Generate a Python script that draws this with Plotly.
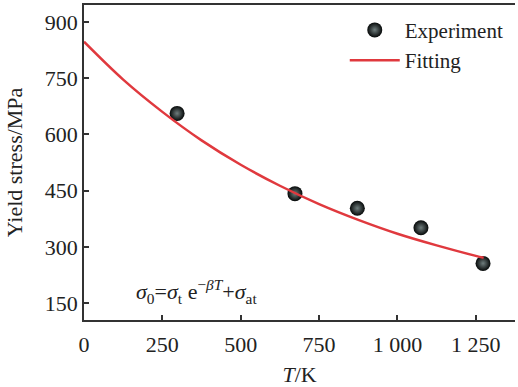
import plotly.graph_objects as go

# Experimental data
exp_T = [297, 673, 872, 1075, 1273]
exp_sigma = [656, 442, 403, 351, 256]

# Fitted curve
fit_T = [0, 125, 250, 375, 500, 625, 750, 875, 1000, 1125, 1250, 1275]
fit_sigma = [847, 746, 660, 584, 519, 463, 414, 372, 335, 304, 276, 271]

x_ticks = [0, 250, 500, 750, 1000, 1250]
x_ticktext = ["0", "250", "500", "750", "1 000", "1 250"]
y_ticks = [150, 300, 450, 600, 750, 900]

FONT = "Liberation Serif"
AX = "#333333"

fig = go.Figure()
fig.add_trace(go.Scatter(
    x=exp_T, y=exp_sigma, mode="markers", name="Experiment",
    marker=dict(size=15, color="#050808",
                gradient=dict(type="radial", color="#6f7d7d"),
                line=dict(width=0)),
))
fig.add_trace(go.Scatter(
    x=fit_T, y=fit_sigma, mode="lines", name="Fitting",
    line=dict(color="#e0393e", width=2.5, shape="spline"),
))

fig.add_annotation(
    x=160, y=180, xref="x", yref="y", xanchor="left", yanchor="middle",
    text="<i>σ</i><sub>0</sub>=<i>σ</i><sub>t</sub> e<sup>−<i>βT</i></sup>+<i>σ</i><sub>at</sub>",
    showarrow=False, font=dict(family=FONT, size=22, color="#222"),
)

fig.update_layout(
    width=518, height=387,
    margin=dict(l=84, r=3, t=3, b=67),
    paper_bgcolor="white", plot_bgcolor="white",
    font=dict(family=FONT, size=22, color="#222"),
    showlegend=True,
    legend=dict(x=0.605, y=0.985, xanchor="left", yanchor="top",
                bgcolor="rgba(0,0,0,0)", itemwidth=50,
                font=dict(family=FONT, size=21, color="#222"),
                tracegroupgap=0),
    xaxis=dict(range=[0, 1375], tickvals=x_ticks, ticktext=x_ticktext,
               showline=True, linecolor=AX, linewidth=1.5, mirror=True,
               ticks="inside", ticklen=5, tickcolor=AX, tickwidth=1.5,
               showgrid=False, zeroline=False, ticklabelstandoff=4,
               tickfont=dict(family=FONT, size=22),
               title=dict(text="<i>T</i>/K", standoff=11,
                          font=dict(family=FONT, size=22))),
    yaxis=dict(range=[105, 945], tickvals=y_ticks,
               showline=True, linecolor=AX, linewidth=1.5, mirror=False,
               ticks="inside", ticklen=5, tickcolor=AX, tickwidth=1.5,
               showgrid=False, zeroline=False,
               tickfont=dict(family=FONT, size=22),
               title=dict(text="Yield stress/MPa", standoff=16,
                          font=dict(family=FONT, size=22))),
)

fig.write_html("out.html")
